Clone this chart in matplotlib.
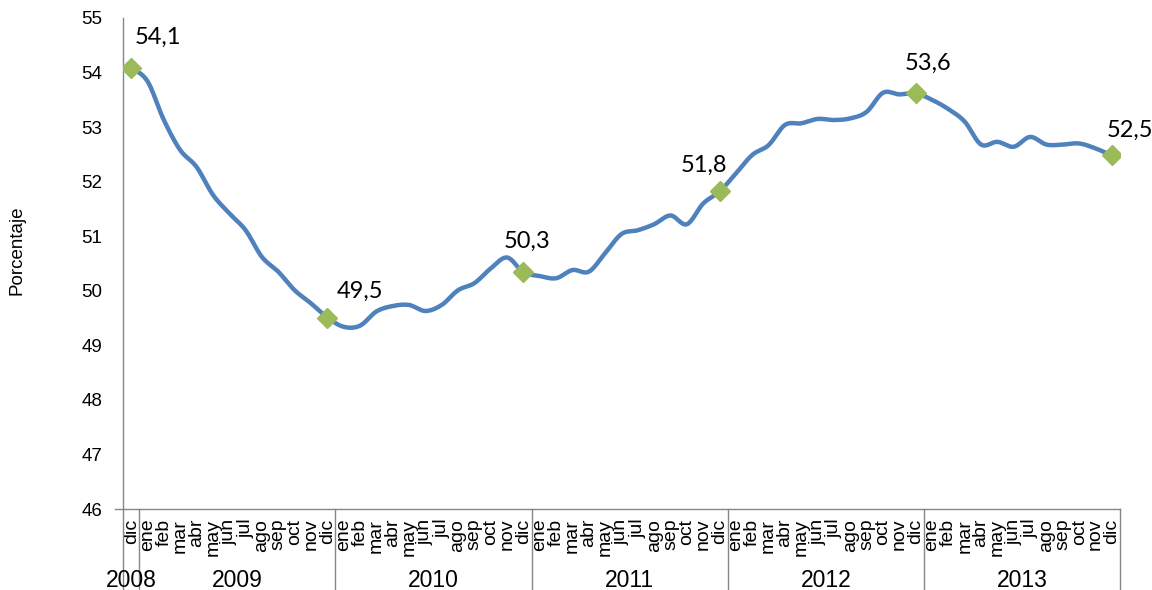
import matplotlib
matplotlib.use("Agg")
import matplotlib.pyplot as plt
import matplotlib.transforms as mtransforms
import numpy as np

# monthly values, dic 2008 .. dic 2013
months = ["dic"] + ["ene", "feb", "mar", "abr", "may", "jun",
                    "jul", "ago", "sep", "oct", "nov", "dic"] * 5
years = ["2008", "2009", "2010", "2011", "2012", "2013"]
values = [54.09,
          53.84, 53.13, 52.58, 52.27, 51.76, 51.42, 51.11, 50.62, 50.35, 50.01, 49.77, 49.51,
          49.34, 49.36, 49.62, 49.72, 49.74, 49.63, 49.74, 50.01, 50.14, 50.41, 50.61, 50.34,
          50.27, 50.23, 50.38, 50.35, 50.69, 51.04, 51.11, 51.22, 51.38, 51.22, 51.60, 51.82,
          52.15, 52.49, 52.67, 53.04, 53.07, 53.15, 53.13, 53.16, 53.28, 53.63, 53.60, 53.62,
          53.50, 53.33, 53.10, 52.68, 52.73, 52.64, 52.82, 52.68, 52.68, 52.70, 52.61, 52.48]
label_idx = [0, 12, 24, 36, 48, 60]
label_txt = ["54,1", "49,5", "50,3", "51,8", "53,6", "52,5"]
# label offsets in pixels (dx, dy), placement only
label_off = [(27, 30), (33, 26), (4, 31), (-16, 26), (12, 30), (18, 25)]

LINE = "#4F81BD"
MARK = "#9BBB59"
GRID = "#868686"
NARROW = ["Liberation Sans Narrow", "Liberation Sans", "DejaVu Sans"]

plt.rcParams["font.family"] = NARROW

x = np.arange(len(values))
y = np.array(values, dtype=float)


def smooth(xs, ys, n=20):
    # Bezier smoothing like spreadsheet "smoothed line"
    px = np.concatenate([[xs[0]], xs, [xs[-1]]])
    py = np.concatenate([[ys[0]], ys, [ys[-1]]])
    ox, oy = [], []
    t = np.linspace(0, 1, n, endpoint=False)
    for i in range(1, len(px) - 2):
        p0 = np.array([px[i], py[i]])
        p3 = np.array([px[i + 1], py[i + 1]])
        c1 = p0 + (np.array([px[i + 1], py[i + 1]]) - np.array([px[i - 1], py[i - 1]])) / 6
        c2 = p3 - (np.array([px[i + 2], py[i + 2]]) - np.array([px[i], py[i]])) / 6
        b = ((1 - t) ** 3)[:, None] * p0 + (3 * (1 - t) ** 2 * t)[:, None] * c1 \
            + (3 * (1 - t) * t ** 2)[:, None] * c2 + (t ** 3)[:, None] * p3
        ox.extend(b[:, 0])
        oy.extend(b[:, 1])
    ox.append(xs[-1])
    oy.append(ys[-1])
    return np.array(ox), np.array(oy)


fig = plt.figure(figsize=(11.52, 5.90), dpi=100)
ax = fig.add_axes([123 / 1152, 81 / 590, 997 / 1152, 491 / 590])

sx, sy = smooth(x, y)
ax.plot(sx, sy, color=LINE, lw=3.2, solid_capstyle="round", zorder=2)
ax.plot(x[label_idx], y[label_idx], linestyle="none", marker="D",
        markersize=10, color=MARK, zorder=3)

for i, t, (dx, dy) in zip(label_idx, label_txt, label_off):
    ax.annotate(t, (x[i], y[i]), xytext=(dx * 0.72, dy * 0.72),
                textcoords="offset points", ha="center", va="center",
                fontsize=17, family=["Lato", "DejaVu Sans"], color="black")

ax.set_xlim(-0.5, len(values) - 0.5)
ax.set_ylim(46, 55)
ax.set_yticks(range(46, 56))
ax.tick_params(axis="y", length=0, pad=15, labelsize=13.5)
ax.set_xticks(x)
ax.set_xticklabels(months, rotation=90, fontsize=14)
ax.tick_params(axis="x", length=0, pad=7)

for s in ["top", "right"]:
    ax.spines[s].set_visible(False)
for s in ["left", "bottom"]:
    ax.spines[s].set_color(GRID)
    ax.spines[s].set_linewidth(1.0)

# small tick at the axis crossing
ax.plot([-0.008, 0], [0, 0], transform=ax.transAxes, color=GRID, lw=1.0, clip_on=False)

fig.text(17 / 1152, 1 - 250 / 590, "Porcentaje", rotation=90,
         ha="center", va="center", fontsize=13.5)

# year group separators and labels
trans = mtransforms.blended_transform_factory(ax.transData, ax.transAxes)
seps = [-0.5, 0.5, 12.5, 24.5, 36.5, 48.5, 60.5]
for s in seps:
    ax.plot([s, s], [0, -0.17], transform=trans, color=GRID, lw=1.0, clip_on=False)
centers = [0, 6.5, 18.5, 30.5, 42.5, 54.5]
for c, yr in zip(centers, years):
    ax.text(c, -0.145, yr, transform=trans, ha="center", va="center", fontsize=16.5)

fig.savefig("out.png", dpi=100)
